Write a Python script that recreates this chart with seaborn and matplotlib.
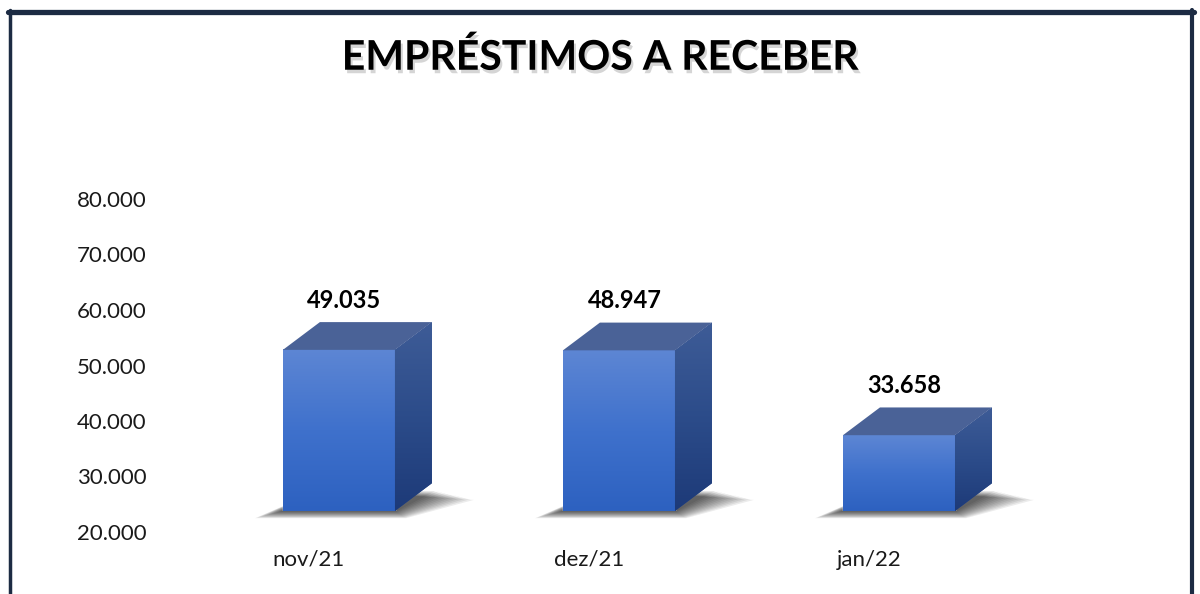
import numpy as np
import matplotlib
matplotlib.use("Agg")
import matplotlib.pyplot as plt
import matplotlib.patheffects as pe
import seaborn as sns
from matplotlib.patches import Polygon
from matplotlib.colors import LinearSegmentedColormap
from matplotlib.lines import Line2D
from matplotlib.ticker import FixedLocator, FuncFormatter
from matplotlib.transforms import ScaledTranslation

MESES = ["nov/21", "dez/21", "jan/22"]
VALORES = [49035, 48947, 33658]
Y_TICKS = [20000, 30000, 40000, 50000, 60000, 70000, 80000]
TITULO = "EMPRÉSTIMOS A RECEBER"

# escala / efeito 3D
Y_MIN, Y_MAX = 20000, 90000
DEPTH_X, DEPTH_Y = 0.132, 5000
BAR_W = 0.4

FRONT_CMAP = LinearSegmentedColormap.from_list("front", ["#2D61C0", "#3F71CC", "#5D86D4"])
SIDE_CMAP = LinearSegmentedColormap.from_list("side", ["#1D3A78", "#2C4C8A", "#3E5C97"])
TOP_COLOR = "#4A6297"
FRAME = "#1C2B43"


def br(v, pos=None):
    return f"{v:,.0f}".replace(",", ".")


sns.set_style("white")
plt.rcParams["font.family"] = ["Lato", "DejaVu Sans"]

fig = plt.figure(figsize=(12, 5.94), dpi=100)
ax = fig.add_axes([160 / 1200, 83 / 594, 900 / 1200, 388.5 / 594])

sns.barplot(x=MESES, y=VALORES, width=BAR_W, color="#3F71CC", saturation=1,
            ax=ax, zorder=2)

grad = np.linspace(0, 1, 256).reshape(-1, 1)

for bar, v in zip(ax.patches, VALORES):
    x0 = bar.get_x()
    x1 = x0 + bar.get_width()
    top = bar.get_height()
    b = Y_MIN

    # sombra difusa no chão
    n = 12
    for k in range(n):
        g = 1 - k / n
        sh = Polygon([(x0 - 0.10 * g, b - 1300 * g), (x1 + 0.04 * g, b - 1300 * g),
                      (x1 + DEPTH_X + 0.15 * g, b + DEPTH_Y * (0.75 - 0.35 * g)),
                      (x0 + DEPTH_X, b + DEPTH_Y * 0.75)],
                     closed=True, facecolor="black", alpha=0.075, lw=0,
                     zorder=1, clip_on=False)
        ax.add_patch(sh)

    # frente com degradê
    ax.imshow(grad, extent=[x0, x1, b, top], origin="lower", aspect="auto",
              cmap=FRONT_CMAP, zorder=3, interpolation="bicubic")

    # lateral
    side = Polygon([(x1, b), (x1 + DEPTH_X, b + DEPTH_Y),
                    (x1 + DEPTH_X, top + DEPTH_Y), (x1, top)],
                   closed=True, facecolor="#2C4C8A", lw=0, zorder=3)
    ax.add_patch(side)
    im = ax.imshow(grad, extent=[x1, x1 + DEPTH_X, b, top + DEPTH_Y], origin="lower",
                   aspect="auto", cmap=SIDE_CMAP, zorder=3.1, interpolation="bicubic")
    im.set_clip_path(side)

    # topo
    ax.add_patch(Polygon([(x0, top), (x1, top), (x1 + DEPTH_X, top + DEPTH_Y),
                          (x0 + DEPTH_X, top + DEPTH_Y)],
                         closed=True, facecolor=TOP_COLOR, lw=0, zorder=3.2))

    ax.annotate(br(v), xy=(x0 + bar.get_width() / 2 + 0.02, top + DEPTH_Y),
                xytext=(0, 22), textcoords="offset pixels", ha="center", va="center",
                fontsize=17, fontweight="bold", color="black", zorder=5)

ax.set_xlim(-0.639, 2.575)
ax.set_ylim(Y_MIN, Y_MAX)
ax.yaxis.set_major_locator(FixedLocator(Y_TICKS))
ax.yaxis.set_major_formatter(FuncFormatter(br))
ax.set_xlabel("")
ax.set_ylabel("")
sns.despine(ax=ax, left=True, bottom=True)
ax.tick_params(axis="both", length=0, labelsize=16, colors="#1a1a1a")
ax.tick_params(axis="x", pad=28)
ax.tick_params(axis="y", pad=9.5)

# rótulos deslocados como no gráfico 3D original
dx_lbl = ScaledTranslation(-0.30, 0, fig.dpi_scale_trans)
for lbl in ax.get_xticklabels():
    lbl.set_transform(lbl.get_transform() + dx_lbl)
dy_lbl = ScaledTranslation(0, -0.21, fig.dpi_scale_trans)
for lbl in ax.get_yticklabels():
    lbl.set_transform(lbl.get_transform() + dy_lbl)

fig.text(0.5, 1 - 58 / 594, TITULO, ha="center", va="center", fontsize=29.5,
         fontweight="bold", color="black",
         path_effects=[pe.withSimplePatchShadow(offset=(1.5, -2.5), shadow_rgbFace="#888888", alpha=0.35)])

# moldura
fig.add_artist(Line2D([8 / 1200, 1194 / 1200], [1 - 11.5 / 594] * 2, color=FRAME, lw=3.8))
fig.add_artist(Line2D([9.5 / 1200] * 2, [0, 1 - 10 / 594], color=FRAME, lw=2.5))
fig.add_artist(Line2D([1192 / 1200] * 2, [0, 1 - 10 / 594], color=FRAME, lw=3))

fig.savefig("out.png", dpi=100)
